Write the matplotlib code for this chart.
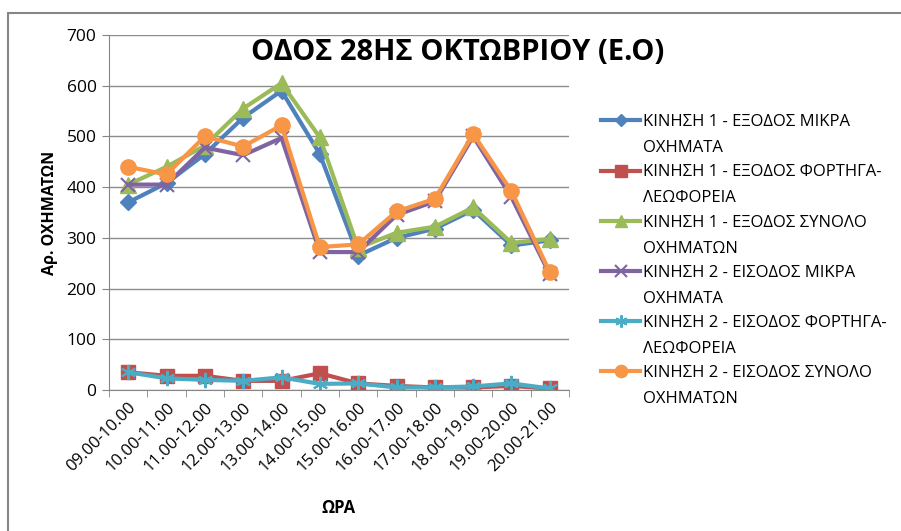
import matplotlib
matplotlib.use("Agg")
import matplotlib.pyplot as plt
from matplotlib.patches import Rectangle

plt.rcParams['font.family'] = ['Open Sans', 'DejaVu Sans']

# ώρες μέτρησης
hours = ["09.00-10.00", "10.00-11.00", "11.00-12.00", "12.00-13.00",
         "13.00-14.00", "14.00-15.00", "15.00-16.00", "16.00-17.00",
         "17.00-18.00", "18.00-19.00", "19.00-20.00", "20.00-21.00"]

# κίνηση 1 - έξοδος
k1_small = [370, 408, 465, 537, 590, 465, 265, 300, 318, 355, 285, 295]
k1_heavy = [35, 28, 28, 18, 18, 33, 13, 8, 5, 5, 8, 3]
k1_total = [405, 440, 482, 555, 605, 498, 280, 310, 322, 360, 290, 298]

# κίνηση 2 - είσοδος
k2_small = [405, 405, 478, 463, 497, 272, 272, 345, 372, 500, 380, 228]
k2_heavy = [35, 23, 20, 18, 25, 12, 13, 5, 5, 7, 13, 3]
k2_total = [440, 425, 500, 480, 522, 282, 287, 352, 377, 505, 392, 232]

labels = ["ΚΙΝΗΣΗ 1 - ΕΞΟΔΟΣ ΜΙΚΡΑ", "ΚΙΝΗΣΗ 1 - ΕΞΟΔΟΣ ΦΟΡΤΗΓΑ-",
          "ΚΙΝΗΣΗ 1 - ΕΞΟΔΟΣ ΣΥΝΟΛΟ", "ΚΙΝΗΣΗ 2 - ΕΙΣΟΔΟΣ ΜΙΚΡΑ",
          "ΚΙΝΗΣΗ 2 - ΕΙΣΟΔΟΣ ΦΟΡΤΗΓΑ-", "ΚΙΝΗΣΗ 2 - ΕΙΣΟΔΟΣ ΣΥΝΟΛΟ"]
labels2 = ["ΟΧΗΜΑΤΑ", "ΛΕΩΦΟΡΕΙΑ", "ΟΧΗΜΑΤΩΝ",
           "ΟΧΗΜΑΤΑ", "ΛΕΩΦΟΡΕΙΑ", "ΟΧΗΜΑΤΩΝ"]

W, H = 901, 531
fig = plt.figure(figsize=(W / 100, H / 100), dpi=100)
ax = fig.add_axes([109 / W, 1 - 390 / H, 460 / W, 355 / H])

x = list(range(len(hours)))
ax.plot(x, k1_small, color="#4F81BD", lw=3, marker="D", ms=8, label=labels[0])
ax.plot(x, k1_heavy, color="#C0504D", lw=3, marker="s", ms=10, label=labels[1])
ax.plot(x, k1_total, color="#9BBB59", lw=3, marker="^", ms=11, label=labels[2])
ax.plot(x, k2_small, color="#8064A2", lw=3, marker="x", ms=10, mew=1.5, label=labels[3])
ax.plot(x, k2_heavy, color="#4BACC6", lw=3, marker=(6, 2, 0), ms=11, mew=1.5, label=labels[4])
ax.plot(x, k2_total, color="#F79646", lw=3, marker="o", ms=11, label=labels[5])

ax.set_xlim(-0.5, len(hours) - 0.5)
ax.set_ylim(0, 700)
ax.set_yticks(range(0, 701, 100))
ax.set_xticks(x)
ax.set_xticklabels(hours, rotation=45, ha="right", rotation_mode="anchor", fontsize=12)
ax.set_xticks([i - 0.5 for i in range(len(hours) + 1)], minor=True)
ax.tick_params(axis="x", which="major", length=0, pad=7)
ax.tick_params(axis="x", which="minor", length=5, color="#868686")
ax.tick_params(axis="y", length=5, color="#868686", labelsize=12.5, pad=4)
ax.grid(axis="y", color="#8c8c8c", lw=1)
ax.set_axisbelow(True)
for s in ["top", "right"]:
    ax.spines[s].set_visible(False)
for s in ["left", "bottom"]:
    ax.spines[s].set_color("#868686")

ax.set_ylabel("Αρ. ΟΧΗΜΑΤΩΝ", fontsize=11.5, fontweight="bold", labelpad=6)
ax.set_xlabel("ΩΡΑ", fontsize=12, fontweight="bold", labelpad=17)
ax.text(0.757, 0.952, "ΟΔΟΣ 28ΗΣ ΟΚΤΩΒΡΙΟΥ (Ε.Ο)", transform=ax.transAxes,
        ha="center", va="center", fontsize=21, fontweight="bold")

leg = ax.legend(loc="upper left", bbox_to_anchor=(593 / W, 1 - 106 / H),
                bbox_transform=fig.transFigure, frameon=False, fontsize=12,
                handlelength=2.3, handletextpad=0.2, labelspacing=2.05, markerscale=0.8,
                borderpad=0)

# δεύτερη γραμμή κάθε λεζάντας, κάτω από την πρώτη
fig.canvas.draw()
for t, second in zip(leg.get_texts(), labels2):
    bb = t.get_window_extent()
    fig.text(bb.x0 / W, (bb.y0 - 26) / H, second, fontsize=12, va="bottom", ha="left")

fig.patches.append(Rectangle((8 / W, -0.05), 1.0, 1 - 13 / H + 0.05,
                             transform=fig.transFigure, fill=False,
                             edgecolor="#868686", lw=1.5))

fig.savefig("out.png", dpi=100)
